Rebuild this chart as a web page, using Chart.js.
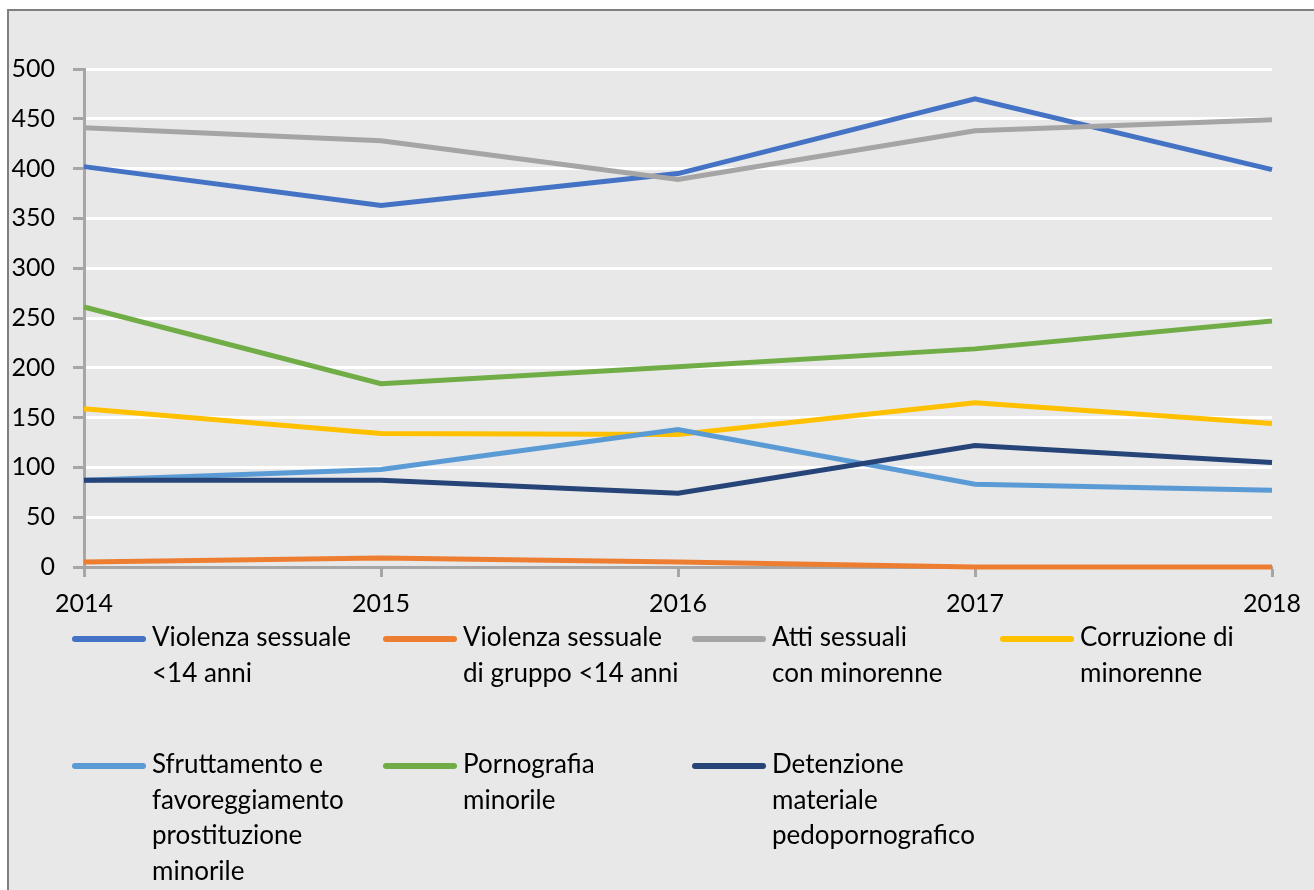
<!DOCTYPE html>
<html lang="it">
<head>
    <meta charset="UTF-8">
    <title>Reati a danno di minori 2014-2018</title>
    <script src="https://cdn.jsdelivr.net/npm/chart.js@4.4.0/dist/chart.umd.min.js"></script>
    <style>
        body { margin: 0; background: #fff; overflow: hidden; }
        .frame {
            position: absolute; left: 7px; top: 9px; width: 1400px; height: 1000px;
            background: #e8e8e8; border-left: 2px solid #7f7f7f; border-top: 2px solid #7f7f7f;
        }
        #chart { position: absolute; left: 0; top: 0; }
    </style>
</head>
<body>
    <div class="frame"></div>
    <canvas id="chart" width="1314" height="890"></canvas>

    <script>
        const years = ['2014', '2015', '2016', '2017', '2018'];
        const yTicks = [0, 50, 100, 150, 200, 250, 300, 350, 400, 450, 500];

        const violenzaSessuale = [402, 363, 395, 470, 399];
        const violenzaGruppo = [5, 9, 5, 0, 0];
        const attiSessuali = [441, 428, 389, 438, 449];
        const corruzione = [159, 134, 133, 165, 144];
        const sfruttamento = [87, 98, 138, 83, 77];
        const pornografia = [261, 184, 201, 219, 247];
        const detenzione = [87, 87, 74, 122, 105];

        const seriesNames = [
            ['Violenza sessuale', '<14 anni'],
            ['Violenza sessuale', 'di gruppo <14 anni'],
            ['Atti sessuali', 'con minorenne'],
            ['Corruzione di', 'minorenne'],
            ['Sfruttamento e', 'favoreggiamento', 'prostituzione', 'minorile'],
            ['Pornografia', 'minorile'],
            ['Detenzione', 'materiale', 'pedopornografico']
        ];
        const seriesValues = [violenzaSessuale, violenzaGruppo, attiSessuali, corruzione, sfruttamento, pornografia, detenzione];
        const seriesColors = ['#4472c4', '#ed7d31', '#a5a5a5', '#ffc000', '#5b9bd5', '#70ad47', '#264478'];

        const FONT = 'Lato, "Liberation Sans", sans-serif';
        const AXIS = '#a6a6a6';

        // legenda su 4 colonne con etichette a più righe (stile Excel)
        const legendPlugin = {
            id: 'multiLegend',
            afterDraw(chart) {
                const ctx = chart.ctx;
                const colX = [72, 383, 692, 1000];
                const rowY = [638, 765];
                const lineH = 35.5;
                ctx.save();
                ctx.font = '26px ' + FONT;
                ctx.textBaseline = 'middle';
                ctx.textAlign = 'left';
                seriesNames.forEach((lines, i) => {
                    const x = colX[i % 4];
                    const y = rowY[Math.floor(i / 4)];
                    ctx.strokeStyle = seriesColors[i];
                    ctx.lineWidth = 6;
                    ctx.lineCap = 'round';
                    ctx.beginPath();
                    ctx.moveTo(x + 3, y + 1);
                    ctx.lineTo(x + 71, y + 1);
                    ctx.stroke();
                    ctx.fillStyle = '#000';
                    lines.forEach((t, k) => ctx.fillText(t, x + 80, y + k * lineH));
                });
                ctx.restore();
            }
        };

        new Chart(document.getElementById('chart'), {
            type: 'line',
            data: {
                labels: years,
                datasets: seriesValues.map((values, i) => ({
                    label: seriesNames[i].join(' '),
                    data: values,
                    borderColor: seriesColors[i],
                    backgroundColor: seriesColors[i],
                    borderWidth: 5,
                    pointRadius: 0,
                    tension: 0,
                    clip: false,
                    order: seriesValues.length - i
                }))
            },
            options: {
                responsive: false,
                animation: false,
                layout: { padding: { left: 0, top: 69, right: 42, bottom: 0 } },
                plugins: { legend: { display: false }, tooltip: { enabled: false } },
                scales: {
                    x: {
                        offset: false,
                        grid: { drawOnChartArea: false, tickColor: AXIS, tickLength: 10, tickWidth: 3 },
                        border: { color: AXIS, width: 3 },
                        ticks: { color: '#000', font: { family: FONT, size: 25 }, padding: 12, maxRotation: 0 },
                        afterFit: s => { s.height = 890 - 567; }
                    },
                    y: {
                        min: 0,
                        max: 500,
                        afterBuildTicks: s => { s.ticks = yTicks.map(v => ({ value: v })); },
                        grid: { color: '#ffffff', lineWidth: 3, tickColor: AXIS, tickLength: 11, tickWidth: 3 },
                        border: { color: AXIS, width: 3 },
                        ticks: { color: '#000', font: { family: FONT, size: 25 }, padding: 18 },
                        afterFit: s => { s.width = 84; }
                    }
                }
            },
            plugins: [legendPlugin]
        });
    </script>
</body>
</html>
